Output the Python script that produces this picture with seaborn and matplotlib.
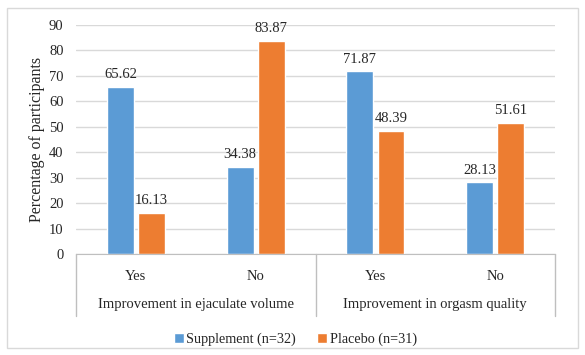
import pandas as pd
import matplotlib.pyplot as plt
import seaborn as sns
from matplotlib.patches import Rectangle

# values
outcomes = ["Improvement in ejaculate volume", "Improvement in orgasm quality"]
answers = ["Yes", "No"]
groups = ["Supplement (n=32)", "Placebo (n=31)"]
supplement = [65.62, 34.38, 71.87, 28.13]
placebo = [16.13, 83.87, 48.39, 51.61]
colors = ["#5B9BD5", "#ED7D31"]

cats = [o + "|" + a for o in outcomes for a in answers]
df = pd.DataFrame({
    "cat": cats * 2,
    "group": [groups[0]] * 4 + [groups[1]] * 4,
    "value": supplement + placebo,
})

sns.set_style("white")
plt.rcParams["font.family"] = ["Liberation Serif", "DejaVu Serif"]
plt.rcParams["font.size"] = 10.2
txt = "#262626"

fig = plt.figure(figsize=(5.85, 3.55), dpi=100)
ax = fig.add_axes([0.130, 0.2845, 0.8188, 0.645])

sns.barplot(data=df, x="cat", y="value", hue="group", order=cats, hue_order=groups,
            palette=colors, width=0.52, gap=0.135, saturation=1, ax=ax, legend=True)

for c in ax.containers:
    ax.bar_label(c, fmt="%.2f", padding=4, fontsize=10.5, color=txt)

ax.set_ylim(0, 90)
ax.set_yticks(range(0, 91, 10))
ax.set_xlim(-0.5, 3.5)
ax.yaxis.grid(True, color="#D9D9D9", linewidth=1)
ax.set_axisbelow(True)
for s in ["left", "right", "top"]:
    ax.spines[s].set_visible(False)
ax.spines["bottom"].set_color("#BFBFBF")
ax.tick_params(axis="y", length=0, pad=9, labelcolor=txt, labelsize=10.5)
ax.set_xticks([])
ax.set_xlabel("")
ax.set_ylabel("Percentage of participants", fontsize=11.5, color=txt, labelpad=3)

# two-level category axis
tr = ax.get_xaxis_transform()
for i, c in enumerate(cats):
    ax.text(i, -0.1, c.split("|")[1], transform=tr, ha="center", va="center",
            color=txt, fontsize=10.5)
for j, o in enumerate(outcomes):
    ax.text(2 * j + 0.5, -0.22, o, transform=tr, ha="center", va="center",
            color=txt, fontsize=10.5)
for x in [-0.5, 1.5, 3.5]:
    ax.plot([x, x], [0, -0.27], transform=tr, color="#BFBFBF", linewidth=1, clip_on=False)

leg = ax.legend(loc="center", bbox_to_anchor=(0.505, 0.045), bbox_transform=fig.transFigure,
                ncol=2, frameon=False, handlelength=0.7, handleheight=0.7,
                handletextpad=0.2, columnspacing=1.5, fontsize=10.2)
for t in leg.get_texts():
    t.set_color(txt)

fig.patches.append(Rectangle((0.012, 0.02), 0.976, 0.958, transform=fig.transFigure,
                             fill=False, edgecolor="#D9D9D9", linewidth=1))

fig.savefig("out.png", dpi=100)
